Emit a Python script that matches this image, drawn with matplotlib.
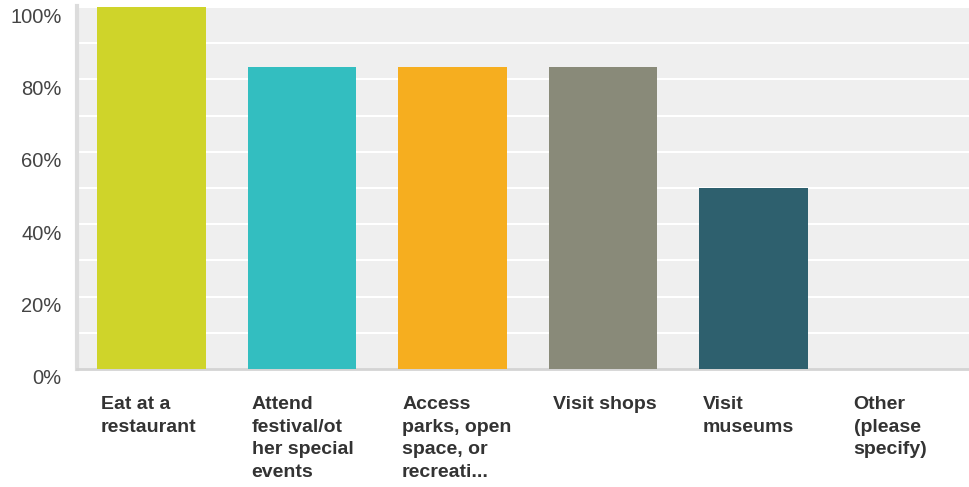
import matplotlib.pyplot as plt
import matplotlib.transforms as mtransforms

plt.rcParams['font.family'] = ['Liberation Sans', 'DejaVu Sans']

categories = [
    "Eat at a\nrestaurant",
    "Attend\nfestival/ot\nher special\nevents",
    "Access\nparks, open\nspace, or\nrecreati...",
    "Visit shops",
    "Visit\nmuseums",
    "Other\n(please\nspecify)",
]
values = [100.0, 83.33, 83.33, 83.33, 50.0, 0.0]
colors = ["#cfd42a", "#33bec0", "#f6ae1f", "#898a79", "#2e606e", "#cccccc"]
yticks = [0, 20, 40, 60, 80, 100]
ytick_labels = ["0%", "20%", "40%", "60%", "80%", "100%"]

fig = plt.figure(figsize=(9.69, 4.87), dpi=100)
ax = fig.add_axes([77 / 969, 118 / 487, 892 / 969, 363 / 487])
ax.set_facecolor("#efefef")

x = list(range(len(categories)))
ax.bar(x, values, width=0.724, color=colors, zorder=3)

# white gridlines every 10%
for g in range(10, 101, 10):
    ax.axhline(g, color="white", lw=1.5, zorder=1)

ax.set_xlim(-0.495, 5.432)
ax.set_ylim(0, 100.3)

ax.set_yticks(yticks)
ax.set_yticklabels(ytick_labels, fontsize=14.5, color="#444444")
ax.tick_params(axis="y", length=0, pad=11)
ax.set_xticks([])
offset = mtransforms.ScaledTranslation(0, -8 / 100, fig.dpi_scale_trans)
for lab in ax.get_yticklabels():
    lab.set_transform(lab.get_transform() + offset)

for side in ["top", "right"]:
    ax.spines[side].set_visible(False)
ax.spines["left"].set_color("#dcdcdc")
ax.spines["left"].set_linewidth(3)
ax.spines["bottom"].set_color("#d4d4d4")
ax.spines["bottom"].set_linewidth(2)

trans = mtransforms.blended_transform_factory(ax.transData, ax.transAxes)
for i, cat in enumerate(categories):
    ax.text(i - 0.335, -0.075, cat, transform=trans, ha="left", va="top",
            fontsize=14, fontweight="bold", color="#333333", linespacing=1.42)

fig.savefig("out.png", dpi=100)
